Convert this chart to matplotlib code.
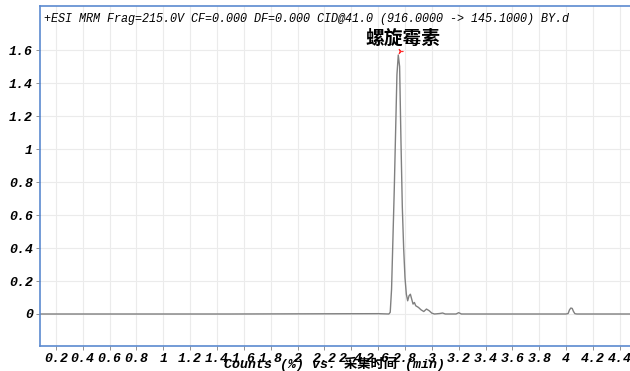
import numpy as np
import matplotlib.pyplot as plt

# chromatogram trace (time in min, counts in %)
rt = [0.08, 1.50, 2.60, 2.68, 2.69, 2.70, 2.71, 2.72, 2.73, 2.74, 2.75, 2.76,
      2.77, 2.78, 2.79, 2.80, 2.81, 2.82, 2.83, 2.84, 2.85, 2.86, 2.87, 2.88,
      2.90, 2.92, 2.94, 2.96, 2.98, 3.00, 3.02, 3.06, 3.08, 3.10, 3.18, 3.20,
      3.22, 3.60, 4.00, 4.015, 4.025, 4.035, 4.045, 4.055, 4.065, 4.08, 4.30, 4.485]
counts = [0.0, 0.0, 0.002, 0.0, 0.01, 0.15, 0.45, 0.75, 1.10, 1.45, 1.57, 1.50,
          1.05, 0.65, 0.40, 0.22, 0.12, 0.08, 0.11, 0.12, 0.09, 0.06, 0.07, 0.05,
          0.04, 0.025, 0.015, 0.03, 0.02, 0.005, 0.0, 0.003, 0.006, 0.0, 0.0, 0.008,
          0.0, 0.0, 0.0, 0.003, 0.025, 0.036, 0.034, 0.015, 0.002, 0.0, 0.0, 0.0]

peak_rt = 2.752
peak_h = 1.575
peak_name = "螺旋霉素"

xticks = np.round(np.arange(0.2, 4.41, 0.2), 1)
yticks = np.round(np.arange(0, 1.61, 0.2), 1)

def fmt(v):
    s = "%g" % v
    return s

mono = ['Liberation Mono', 'Noto Sans CJK SC']

fig = plt.figure(figsize=(6.3, 3.71), dpi=100)
ax = fig.add_axes([40/630, 25/371, 1 - 40/630 + 0.002, 340/371])
ax.set_xlim(0.082, 4.485)
ax.set_ylim(-0.194, 1.867)

ax.plot(rt, counts, color='#808080', lw=1.0)
ax.plot([peak_rt + 0.01], [peak_h + 0.02], marker=(3, 2, 30), color='#ff3030',
        ms=4, mew=0.8)
ax.text(peak_rt + 0.035, peak_h + 0.04, peak_name, ha='center', va='bottom',
        fontsize=13.5, fontweight='bold',
        family=['Noto Sans CJK SC'])

ax.set_xticks(xticks)
ax.set_xticklabels([fmt(v) for v in xticks])
ax.set_yticks(yticks)
ax.set_yticklabels([fmt(v) for v in yticks])
for lab in ax.get_xticklabels() + ax.get_yticklabels():
    lab.set_family(mono)
    lab.set_fontweight('bold')
    lab.set_style('italic')
    lab.set_fontsize(9.5)
ax.tick_params(axis='both', length=3, width=0.6, color='#808080', pad=2)
ax.grid(True, color='#ebebeb', lw=0.8)
ax.set_axisbelow(True)

for side in ['left', 'bottom', 'top']:
    ax.spines[side].set_color('#5b8ad0')
    ax.spines[side].set_linewidth(1.2)
ax.spines['right'].set_visible(False)

ax.text(0.006, 0.978,
        "+ESI MRM Frag=215.0V CF=0.000 DF=0.000 CID@41.0 (916.0000 -> 145.1000) BY.d",
        transform=ax.transAxes, ha='left', va='top', fontsize=8.5,
        style='italic', family=mono)

fig.text(335/630, 1 - 364/371, "Counts (%) vs. 采集时间 (min)", ha='center',
         va='center', fontsize=9.5, fontweight='bold', style='italic',
         family=mono)

fig.savefig('out.png', dpi=100)
